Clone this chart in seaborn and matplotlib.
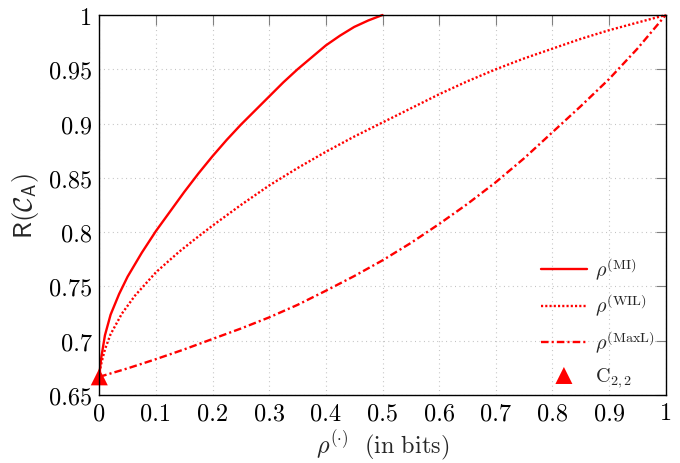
import matplotlib
matplotlib.use("Agg")
import matplotlib.pyplot as plt
import pandas as pd
import seaborn as sns

# Leakage-measure curves: achievable R(C_A) versus rho (in bits)
mi_rho = [0.0, 0.002, 0.004, 0.01, 0.02, 0.035, 0.05, 0.075, 0.1, 0.125, 0.15, 0.175,
          0.2, 0.225, 0.25, 0.275, 0.3, 0.325, 0.35, 0.375, 0.4, 0.425, 0.45, 0.475, 0.5]
mi_r = [0.6667, 0.678, 0.686, 0.705, 0.724, 0.743, 0.759, 0.781, 0.801, 0.819, 0.837, 0.854,
        0.870, 0.885, 0.899, 0.912, 0.925, 0.938, 0.950, 0.961, 0.972, 0.981, 0.989, 0.995, 1.0]

wil_rho = [0.0, 0.002, 0.004, 0.01, 0.02, 0.04, 0.063, 0.1, 0.14, 0.17, 0.2, 0.25, 0.3,
           0.35, 0.4, 0.45, 0.5, 0.55, 0.6, 0.65, 0.7, 0.75, 0.8, 0.85, 0.9, 0.95, 1.0]
wil_r = [0.6667, 0.675, 0.680, 0.692, 0.706, 0.725, 0.7415, 0.763, 0.7815, 0.794, 0.806, 0.825,
         0.843, 0.859, 0.874, 0.888, 0.901, 0.914, 0.927, 0.939, 0.950, 0.960, 0.969, 0.978,
         0.986, 0.993, 1.0]

maxl_rho = [0.0, 0.05, 0.1, 0.15, 0.2, 0.25, 0.3, 0.35, 0.4, 0.45, 0.5, 0.55, 0.6, 0.65,
            0.7, 0.75, 0.8, 0.85, 0.9, 0.95, 1.0]
maxl_r = [0.6667, 0.6745, 0.683, 0.692, 0.7016, 0.7112, 0.7215, 0.733, 0.746, 0.7595, 0.774,
          0.790, 0.8075, 0.826, 0.846, 0.868, 0.892, 0.916, 0.941, 0.969, 1.0]

c22_rho = [0.0]
c22_r = [0.6667]

x_ticks = [0, 0.1, 0.2, 0.3, 0.4, 0.5, 0.6, 0.7, 0.8, 0.9, 1]
x_tick_labels = ["0", "0.1", "0.2", "0.3", "0.4", "0.5", "0.6", "0.7", "0.8", "0.9", "1"]
y_ticks = [0.65, 0.7, 0.75, 0.8, 0.85, 0.9, 0.95, 1.0]
y_tick_labels = ["0.65", "0.7", "0.75", "0.8", "0.85", "0.9", "0.95", "1"]

labels = [r"$\rho^{(\mathrm{MI})}$", r"$\rho^{(\mathrm{WIL})}$",
          r"$\rho^{(\mathrm{MaxL})}$", r"$\mathrm{C}_{2,2}$"]

sns.set_theme(style="white")
plt.rcParams.update({
    "font.family": "serif",
    "font.serif": ["cmr10"],
    "mathtext.fontset": "cm",
    "axes.formatter.use_mathtext": True,
    "axes.unicode_minus": False,
})

fig, ax = plt.subplots(figsize=(6.8, 4.64), dpi=100)
fig.subplots_adjust(left=0.146, right=0.979, bottom=0.1466, top=0.9655)

lw = 1.7
df_mi = pd.DataFrame({"rho": mi_rho, "R": mi_r})
df_wil = pd.DataFrame({"rho": wil_rho, "R": wil_r})
df_maxl = pd.DataFrame({"rho": maxl_rho, "R": maxl_r})
df_c = pd.DataFrame({"rho": c22_rho, "R": c22_r})

sns.lineplot(data=df_mi, x="rho", y="R", ax=ax, color="red", lw=lw, label=labels[0])
sns.lineplot(data=df_wil, x="rho", y="R", ax=ax, color="red", lw=lw, label=labels[1])
sns.lineplot(data=df_maxl, x="rho", y="R", ax=ax, color="red", lw=lw, label=labels[2])
ax.lines[1].set_dashes((0.9, 0.9))
ax.lines[2].set_dashes((3.2, 1.3, 0.9, 1.3))
for ln in ax.lines:
    ln.set_clip_on(False)
    ln.set_zorder(3)
    ln.set_solid_capstyle("round")

sns.scatterplot(data=df_c, x="rho", y="R", ax=ax, color="red", marker="^", s=150,
                edgecolor="none", zorder=4, clip_on=False, label=labels[3])

ax.set_xlim(0, 1)
ax.set_ylim(0.65, 1.0)
ax.set_xticks(x_ticks)
ax.set_xticklabels(x_tick_labels)
ax.set_yticks(y_ticks)
ax.set_yticklabels(y_tick_labels)

ax.grid(True, color="#bbbbbb", linestyle=(0, (0.8, 3.2)), linewidth=0.8)
ax.tick_params(axis="both", which="both", direction="in", top=True, right=True,
               length=7, width=0.8, color="#808080", labelsize=17.5, pad=5,
               labelcolor="black")
for sp in ax.spines.values():
    sp.set_color("black")
    sp.set_linewidth(1.0)
    sp.set_zorder(5)

ax.set_xlabel(r"$\rho^{(\cdot)}\ \ \mathrm{(in\ bits)}$", fontsize=17.5, labelpad=2)
ax.set_ylabel(r"$\mathsf{R}(\mathcal{C}_{\mathsf{A}})$", fontsize=19, labelpad=6)

handles, labs = ax.get_legend_handles_labels()
leg = ax.legend(handles, labs, loc="lower right", frameon=False, fontsize=14.5,
                handlelength=2.3, handletextpad=0.4, labelspacing=0.5,
                borderaxespad=0.0, bbox_to_anchor=(0.995, -0.005))

fig.savefig("out.png", dpi=100)
